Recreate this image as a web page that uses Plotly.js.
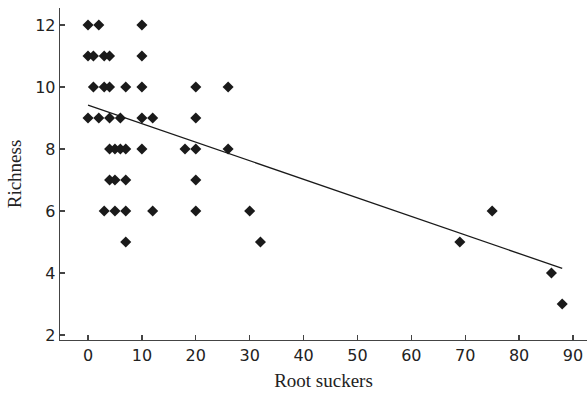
<!DOCTYPE html>
<html>
<head>
<meta charset="utf-8">
<script src="https://cdn.plot.ly/plotly-3.0.1.min.js"></script>
<style>html,body{margin:0;padding:0;background:#fff;}#chart{width:587px;height:395px;}</style>
</head>
<body>
<div id="chart"></div>
<script>
// Root suckers (x) and species richness (y) of each sample
const rootSuckers = [0, 2, 10,
  0, 1, 3, 4, 10,
  1, 3, 4, 7, 10, 20, 26,
  0, 2, 4, 6, 10, 12, 20,
  4, 5, 6, 7, 10, 18, 20, 26,
  4, 5, 7, 20,
  3, 5, 7, 12, 20, 30,
  7, 32, 69,
  75, 86, 88];
const richness = [12, 12, 12,
  11, 11, 11, 11, 11,
  10, 10, 10, 10, 10, 10, 10,
  9, 9, 9, 9, 9, 9, 9,
  8, 8, 8, 8, 8, 8, 8, 8,
  7, 7, 7, 7,
  6, 6, 6, 6, 6, 6,
  5, 5, 5,
  6, 4, 3];
// Fitted trend line end points
const trendX = [0, 88];
const trendY = [9.42, 4.15];
const xTicks = [0, 10, 20, 30, 40, 50, 60, 70, 80, 90];
const yTicks = [2, 4, 6, 8, 10, 12];

const traces = [
  {x: rootSuckers, y: richness, type: 'scatter', mode: 'markers',
   marker: {symbol: 'diamond', size: 8.5, color: '#1a1a1a'}, hoverinfo: 'x+y'},
  {x: trendX, y: trendY, type: 'scatter', mode: 'lines',
   line: {color: '#1a1a1a', width: 1.3}}
];
const axisCommon = {
  showgrid: false, zeroline: false, showline: true, linecolor: '#444', linewidth: 1.3,
  ticks: 'inside', ticklen: 5, tickcolor: '#444', tickwidth: 1.3,
  tickfont: {family: 'DejaVu Sans, Verdana, sans-serif', size: 16, color: '#222'}
};
const layout = {
  width: 587, height: 395,
  margin: {l: 60, r: 0, t: 8, b: 55},
  showlegend: false,
  paper_bgcolor: '#fff', plot_bgcolor: '#fff',
  xaxis: Object.assign({}, axisCommon, {
    range: [-5.2, 92.6], tickvals: xTicks, ticktext: xTicks.map(String),
    title: {text: 'Root suckers', font: {family: 'Liberation Serif, Times New Roman, serif', size: 19, color: '#222'}, standoff: 10}
  }),
  yaxis: Object.assign({}, axisCommon, {
    range: [1.84, 12.55], tickvals: yTicks, ticktext: yTicks.map(String),
    title: {text: 'Richness', font: {family: 'Liberation Serif, Times New Roman, serif', size: 19, color: '#222'}, standoff: 8}
  })
};
Plotly.newPlot('chart', traces, layout, {staticPlot: true});
</script>
</body>
</html>
